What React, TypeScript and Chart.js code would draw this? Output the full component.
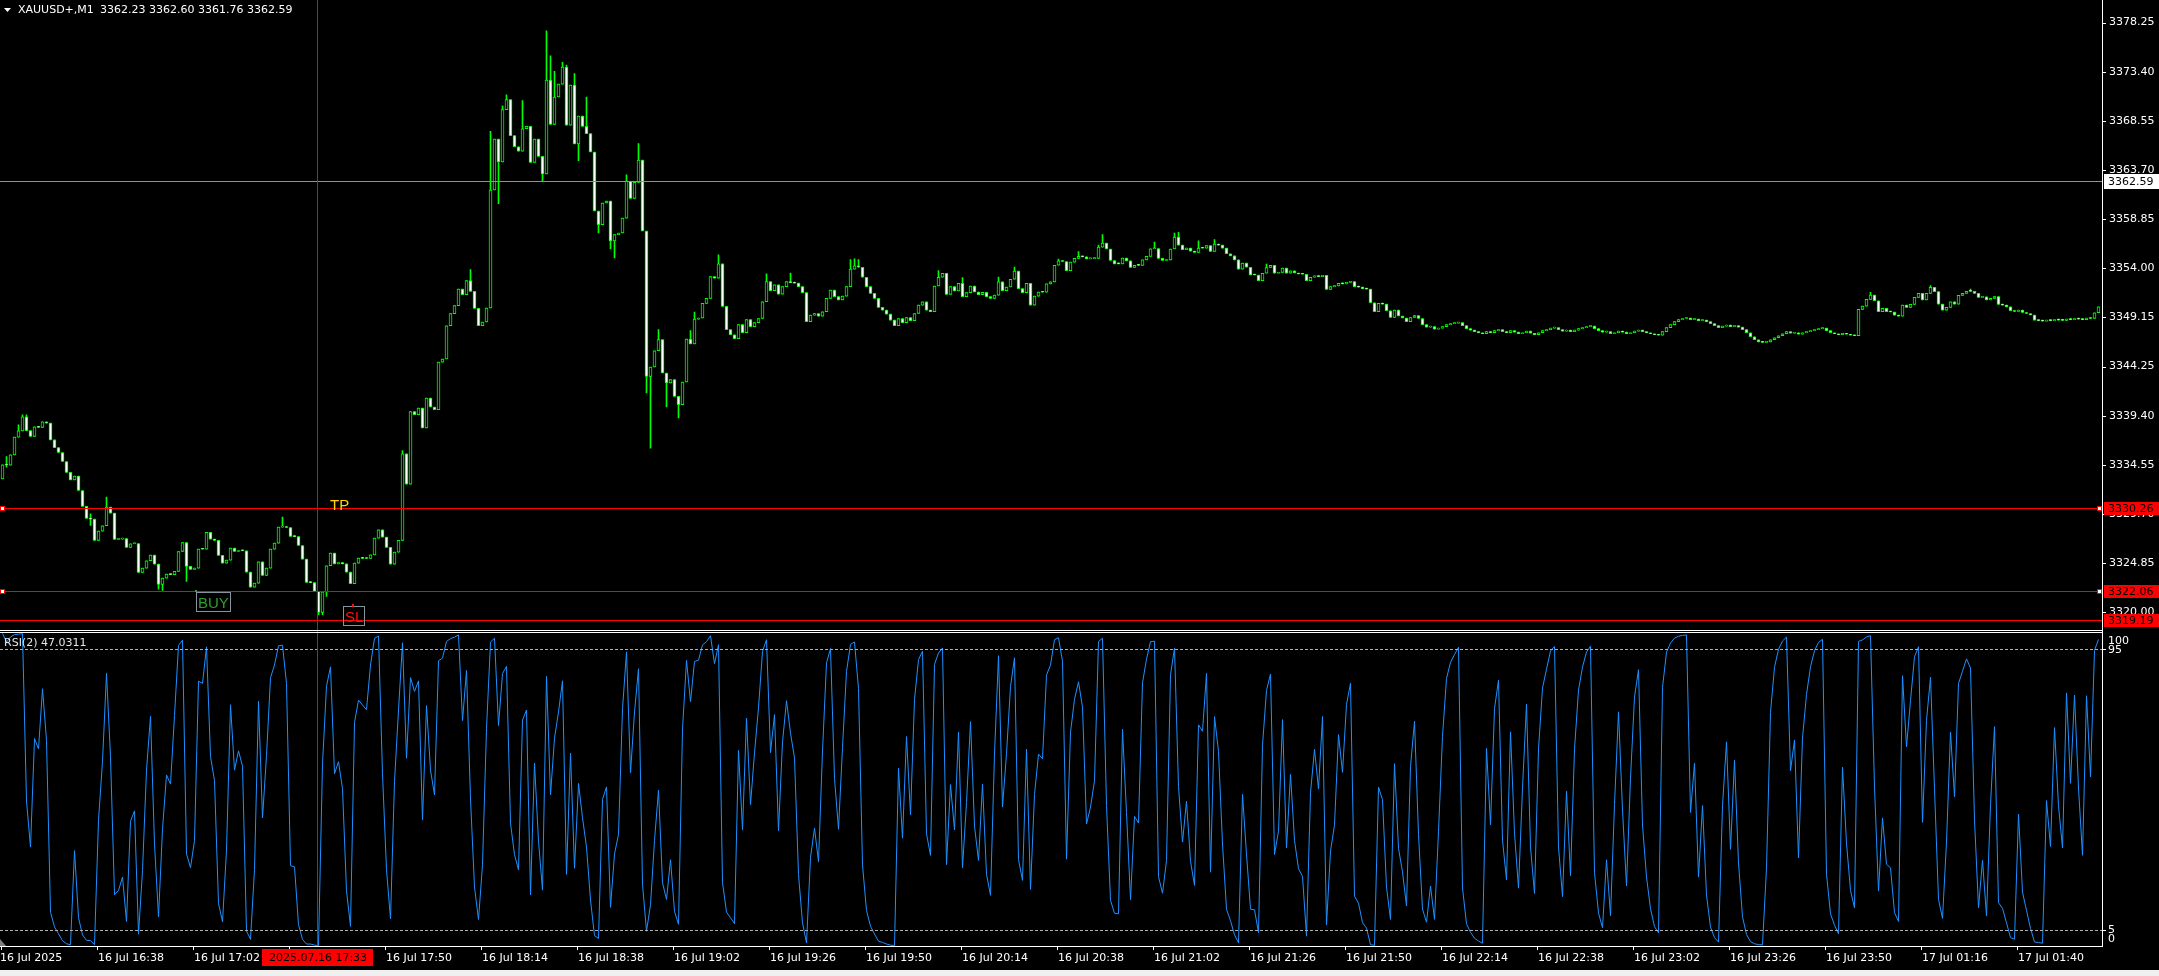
import { useEffect, useRef } from 'react';
import { Chart, registerables } from 'chart.js';

Chart.register(...registerables);

// ---------- data ----------
const SYMBOL = 'XAUUSD+,M1';
const HEADER_PRICES = '3362.23 3362.60 3361.76 3362.59';
const RSI_HEADER = 'RSI(2) 47.0311';
const RSI_PERIOD = 2;

const FIRST_OPEN = 3333.16;
const CLOSES: number[] = [
  3334.54, 3334.50, 3335.53, 3337.28, 3337.90, 3339.29, 3337.93, 3337.34, 3338.30, 3338.25,
  3338.79, 3338.66, 3337.01, 3336.25, 3335.76, 3334.87, 3333.79, 3333.06, 3333.42, 3332.01,
  3330.43, 3329.24, 3329.18, 3327.07, 3327.99, 3328.52, 3330.36, 3329.77, 3327.17, 3327.20,
  3327.25, 3326.38, 3326.74, 3326.77, 3323.91, 3324.33, 3325.06, 3325.62, 3324.73, 3322.72,
  3323.35, 3323.74, 3323.70, 3324.01, 3325.98, 3326.87, 3324.50, 3324.20, 3324.33, 3326.21,
  3326.20, 3327.86, 3327.20, 3327.07, 3325.59, 3324.83, 3325.12, 3326.31, 3325.98, 3326.08,
  3326.05, 3323.94, 3322.46, 3322.85, 3324.96, 3323.61, 3324.33, 3326.21, 3326.80, 3328.39,
  3328.45, 3328.35, 3327.46, 3327.45, 3326.57, 3325.22, 3322.92, 3322.90, 3322.03, 3319.95,
  3321.99, 3324.57, 3325.82, 3324.76, 3324.89, 3324.76, 3323.94, 3322.79, 3324.83, 3325.32,
  3325.30, 3325.29, 3325.65, 3327.30, 3328.12, 3327.40, 3326.38, 3324.73, 3325.92, 3327.07,
  3335.63, 3332.63, 3339.80, 3339.50, 3340.15, 3338.18, 3341.15, 3340.26, 3339.99, 3344.70,
  3345.00, 3348.29, 3349.48, 3350.27, 3351.92, 3351.36, 3352.74, 3351.69, 3350.01, 3348.29,
  3348.66, 3350.04, 3361.70, 3366.74, 3364.47, 3369.64, 3370.63, 3367.07, 3365.98, 3365.55,
  3367.76, 3367.99, 3364.43, 3366.74, 3365.03, 3363.28, 3372.57, 3368.19, 3370.89, 3372.17,
  3373.85, 3368.12, 3372.08, 3366.25, 3369.01, 3367.99, 3367.27, 3365.46, 3359.63, 3358.28,
  3360.42, 3360.61, 3356.66, 3357.29, 3357.45, 3358.93, 3362.56, 3360.88, 3362.46, 3364.67,
  3357.65, 3343.29, 3344.21, 3345.82, 3346.91, 3343.62, 3342.63, 3342.96, 3341.31, 3340.49,
  3342.73, 3346.98, 3346.48, 3348.95, 3349.05, 3350.50, 3351.00, 3353.15, 3353.00, 3354.40,
  3350.20, 3347.90, 3347.40, 3347.00, 3348.40, 3347.60, 3348.90, 3348.20, 3348.60, 3349.00,
  3350.66, 3352.65, 3351.75, 3352.32, 3351.42, 3352.15, 3352.65, 3352.55, 3352.50, 3352.15,
  3351.56, 3348.70, 3349.33, 3349.50, 3349.24, 3349.67, 3351.00, 3351.82, 3351.16, 3350.83,
  3351.22, 3352.15, 3353.88, 3354.21, 3354.07, 3353.08, 3352.15, 3351.49, 3351.00, 3350.10,
  3349.83, 3349.43, 3348.84, 3348.30, 3349.00, 3348.60, 3349.10, 3348.80, 3349.50, 3350.33,
  3350.66, 3349.83, 3349.67, 3352.22, 3353.08, 3353.48, 3351.39, 3352.15, 3351.72, 3352.48,
  3351.16, 3351.56, 3352.22, 3351.62, 3351.36, 3351.59, 3351.16, 3351.00, 3351.32, 3352.62,
  3351.75, 3352.12, 3352.88, 3353.68, 3351.95, 3351.56, 3352.48, 3350.33, 3351.22, 3351.62,
  3351.60, 3352.42, 3352.62, 3354.27, 3354.70, 3354.64, 3353.74, 3354.57, 3354.94, 3355.14,
  3355.10, 3354.90, 3354.92, 3354.94, 3356.06, 3356.46, 3355.87, 3354.74, 3354.41, 3354.40,
  3354.97, 3354.70, 3354.04, 3354.27, 3354.25, 3354.80, 3355.14, 3355.90, 3355.92, 3354.94,
  3354.74, 3354.80, 3355.87, 3357.06, 3356.26, 3355.80, 3355.96, 3355.67, 3355.53, 3355.96,
  3355.95, 3356.20, 3355.63, 3356.36, 3356.26, 3355.96, 3355.40, 3355.20, 3354.80, 3353.88,
  3354.47, 3354.07, 3353.31, 3353.30, 3352.75, 3353.48, 3354.04, 3354.27, 3353.48, 3353.55,
  3353.98, 3353.48, 3353.71, 3353.50, 3353.40, 3353.38, 3352.75, 3353.08, 3353.21, 3353.15,
  3353.28, 3351.89, 3352.15, 3352.22, 3352.48, 3352.42, 3352.58, 3352.65, 3352.15, 3352.10,
  3351.95, 3351.90, 3350.56, 3349.67, 3350.50, 3350.43, 3349.77, 3349.10, 3349.83, 3349.25,
  3349.05, 3348.70, 3349.10, 3349.30, 3349.00, 3348.40, 3348.15, 3348.20, 3347.95, 3348.05,
  3348.20, 3348.40, 3348.50, 3348.55, 3348.60, 3348.30, 3348.00, 3347.85, 3347.70, 3347.60,
  3347.50, 3347.70, 3347.60, 3347.80, 3347.90, 3347.70, 3347.60, 3347.80, 3347.65, 3347.50,
  3347.60, 3347.75, 3347.55, 3347.40, 3347.60, 3347.80, 3347.90, 3348.05, 3348.10, 3347.90,
  3347.75, 3347.85, 3347.70, 3347.85, 3348.00, 3348.10, 3348.20, 3348.25, 3348.00, 3347.80,
  3347.65, 3347.70, 3347.50, 3347.60, 3347.75, 3347.65, 3347.50, 3347.60, 3347.75, 3347.85,
  3347.70, 3347.60, 3347.50, 3347.40, 3347.35, 3347.70, 3348.10, 3348.40, 3348.70, 3348.90,
  3349.00, 3349.05, 3348.90, 3348.95, 3348.80, 3348.85, 3348.70, 3348.50, 3348.30, 3348.10,
  3348.25, 3348.35, 3348.20, 3348.30, 3348.15, 3347.90, 3347.60, 3347.20, 3346.90, 3346.70,
  3346.65, 3346.70, 3346.90, 3347.10, 3347.30, 3347.50, 3347.70, 3347.55, 3347.60, 3347.45,
  3347.60, 3347.70, 3347.80, 3347.90, 3348.00, 3348.05, 3347.80, 3347.60, 3347.50, 3347.40,
  3347.55, 3347.45, 3347.35, 3347.30, 3349.90, 3350.23, 3350.89, 3351.32, 3350.76, 3349.67,
  3350.00, 3349.67, 3349.65, 3349.33, 3349.23, 3350.33, 3350.10, 3350.40, 3351.09, 3351.49,
  3350.83, 3351.49, 3352.09, 3351.66, 3350.43, 3349.83, 3350.10, 3350.66, 3350.43, 3351.29,
  3351.49, 3351.69, 3351.68, 3351.49, 3351.09, 3351.15, 3350.83, 3350.99, 3351.16, 3350.40,
  3350.33, 3350.16, 3349.77, 3349.70, 3349.83, 3349.60, 3349.50, 3349.35, 3348.84, 3348.80,
  3348.75, 3348.85, 3348.80, 3348.90, 3348.85, 3348.82, 3348.95, 3348.90, 3349.00, 3348.95,
  3348.90, 3349.05, 3349.00, 3349.57, 3350.16,
];

// [bar index, high, low] for the wicks that stick out of the bodies
const WICKS: [number, number | null, number | null][] = [
  [1, 3335.37, 3334.31], [4, 3338.5, null], [5, 3339.48, null], [6, 3339.48, null],
  [22, 3329.7, 3328.55], [26, 3331.35, null], [39, null, 3322.26], [40, null, 3322.13],
  [46, null, 3323.02], [70, 3329.37, null], [79, null, 3319.73], [80, null, 3319.73],
  [81, null, 3321.54], [100, 3335.96, null], [117, 3353.83, null], [122, 3367.5, null],
  [124, null, 3360.35], [125, 3370.03, null], [126, 3371.12, null], [130, 3370.53, null],
  [135, null, 3362.6], [136, 3377.44, null], [137, 3374.97, null], [138, 3373.42, null],
  [140, 3374.31, null], [141, 3374.05, null], [143, 3373.2, null], [144, null, 3364.6],
  [146, 3370.89, null], [149, null, 3357.45], [152, null, 3355.87], [153, null, 3354.98],
  [156, 3363.2, null], [159, 3366.28, null], [161, null, 3341.64], [162, null, 3336.2],
  [164, 3347.9, null], [166, null, 3340.26], [169, null, 3339.17], [172, 3347.8, null],
  [173, 3349.65, null], [179, 3355.3, null], [191, 3353.43, null], [197, 3353.5, null],
  [212, 3354.82, null], [213, 3354.9, null], [214, 3354.82, null], [234, 3353.73, null],
  [240, 3353.04, null], [249, 3353.1, null], [253, 3354.09, null], [264, 3354.88, null],
  [269, 3355.61, null], [274, 3356.27, null], [275, 3357.3, null], [288, 3356.56, null],
  [293, 3357.45, null], [294, 3357.52, null], [299, 3356.69, null], [303, 3356.8, null],
  [316, 3354.39, null], [467, 3351.59, null], [482, 3352.25, null], [492, 3351.92, null],
];

const TIME_LABELS: string[] = [
  '16 Jul 2025', '16 Jul 16:38', '16 Jul 17:02', '16 Jul 17:26', '16 Jul 17:50', '16 Jul 18:14',
  '16 Jul 18:38', '16 Jul 19:02', '16 Jul 19:26', '16 Jul 19:50', '16 Jul 20:14', '16 Jul 20:38',
  '16 Jul 21:02', '16 Jul 21:26', '16 Jul 21:50', '16 Jul 22:14', '16 Jul 22:38', '16 Jul 23:02',
  '16 Jul 23:26', '16 Jul 23:50', '17 Jul 01:16', '17 Jul 01:40',
];
const TIME_LABEL_STEP = 24;

const PRICE_TICKS: number[] = [
  3378.25, 3373.40, 3368.55, 3363.70, 3358.85, 3354.00, 3349.15, 3344.25, 3339.40, 3334.55,
  3329.70, 3324.85, 3320.00,
];
const PRICE_MIN = 3318.22;
const PRICE_MAX = 3380.48;

const RSI_LEVELS = [95, 5];
const RSI_AXIS_LABELS = ['100', '95', '5', '0'];

const BID = 3362.59;
const TP_PRICE = 3330.26;
const ENTRY_PRICE = 3322.06;
const SL_PRICE = 3319.19;
const CURSOR_INDEX = 79;
const CURSOR_LABEL = '2025.07.16 17:33';
const TP_INDEX = 82;
const BUY_INDEX = 49;
const SL_INDEX = 86;

// ---------- derived series ----------
const OPENS = CLOSES.map((c, i) => (i === 0 ? FIRST_OPEN : CLOSES[i - 1]));
const HIGHS = CLOSES.map((c, i) => Math.max(c, OPENS[i]));
const LOWS = CLOSES.map((c, i) => Math.min(c, OPENS[i]));
WICKS.forEach(([i, h, l]) => {
  if (h !== null) HIGHS[i] = Math.max(HIGHS[i], h);
  if (l !== null) LOWS[i] = Math.min(LOWS[i], l);
});

// RSI indicator (Wilder smoothing) computed from the closes
function computeRsi(closes: number[], first: number, period: number): number[] {
  const out: number[] = [];
  let up = 0;
  let dn = 0;
  let prev = first;
  closes.forEach((c, i) => {
    const d = c - prev;
    prev = c;
    const u = d > 0 ? d : 0;
    const w = d < 0 ? -d : 0;
    if (i < period) {
      up += u / period;
      dn += w / period;
    } else {
      up = (up * (period - 1) + u) / period;
      dn = (dn * (period - 1) + w) / period;
    }
    out.push(dn === 0 ? 100 : 100 - 100 / (1 + up / dn));
  });
  return out;
}
const RSI_VALUES = computeRsi(CLOSES, FIRST_OPEN, RSI_PERIOD);

// ---------- drawing ----------
const FONT = '"DejaVu Sans", "Liberation Sans", sans-serif';
const TEXT_FONT = '"Liberation Sans", Arial, sans-serif';
const W = 2159;
const H = 970;
const BORDER_X = 2102;

const mt4Plugin = {
  id: 'mt4',
  beforeDraw(chart: any) {
    const { ctx } = chart;
    ctx.save();
    ctx.fillStyle = '#000';
    ctx.fillRect(0, 0, chart.width, chart.height);
    ctx.restore();
  },
  afterDatasetsDraw(chart: any) {
    const { ctx, scales, chartArea } = chart;
    const x = scales.x;
    const yP = scales.yP;
    const yR = scales.yR;
    const bottom = Math.round(chartArea.bottom);
    ctx.save();

    // RSI dotted levels
    ctx.fillStyle = '#b0b0b0';
    RSI_LEVELS.forEach((lv) => {
      const y = Math.round(yR.getPixelForValue(lv));
      for (let xx = 0; xx < BORDER_X; xx += 5) ctx.fillRect(xx, y, 3, 1);
    });

    // bid line
    ctx.fillStyle = '#8793a3';
    ctx.fillRect(0, Math.round(yP.getPixelForValue(BID)), BORDER_X, 1);

    // order lines
    ctx.fillStyle = '#ff0000';
    [TP_PRICE, ENTRY_PRICE, SL_PRICE].forEach((p) => {
      ctx.fillRect(0, Math.round(yP.getPixelForValue(p)), BORDER_X, 1);
    });
    const xc = Math.round(x.getPixelForValue(CURSOR_INDEX)) - 2;
    ctx.fillRect(xc, 0, 1, bottom);

    // line end handles
    [TP_PRICE, ENTRY_PRICE].forEach((p) => {
      const y = Math.round(yP.getPixelForValue(p));
      [0, BORDER_X - 5].forEach((hx) => {
        ctx.fillStyle = '#ff0000';
        ctx.fillRect(hx, y - 2, 5, 5);
        ctx.fillStyle = '#ffffff';
        ctx.fillRect(hx + 1, y - 1, 3, 3);
      });
    });

    // TP text
    const yTP = yP.getPixelForValue(TP_PRICE);
    ctx.font = `15px ${TEXT_FONT}`;
    ctx.textBaseline = 'alphabetic';
    ctx.textAlign = 'left';
    ctx.fillStyle = '#ffd700';
    ctx.fillText('TP', Math.round(x.getPixelForValue(TP_INDEX)) - 1, Math.round(yTP) + 2);

    // BUY label
    const yE = Math.round(yP.getPixelForValue(ENTRY_PRICE));
    const bx = Math.round(x.getPixelForValue(BUY_INDEX)) - 3;
    ctx.strokeStyle = '#8893a0';
    ctx.lineWidth = 1;
    ctx.strokeRect(bx + 0.5, yE + 1.5, 34, 19);
    ctx.fillStyle = '#2f9f2f';
    ctx.fillText('BUY', bx + 2, yE + 17);
    ctx.fillStyle = '#3fa03f';
    ctx.fillRect(bx - 1, yE - 1, 2, 2);

    // SL label
    const yS = Math.round(yP.getPixelForValue(SL_PRICE));
    const sx = Math.round(x.getPixelForValue(SL_INDEX)) - 3;
    ctx.strokeStyle = '#8893a0';
    ctx.strokeRect(sx + 0.5, yS - 13.5, 21, 19);
    ctx.fillStyle = '#ff1010';
    ctx.fillText('SL', sx + 2, yS + 2);
    ctx.fillRect(sx + 9, yS - 16, 2, 3);

    // pane borders
    ctx.fillStyle = '#ffffff';
    const sep = Math.round(yP.bottom);
    ctx.fillRect(0, sep, BORDER_X + 1, 1);
    ctx.fillRect(0, sep + 2, BORDER_X + 1, 1);
    ctx.fillRect(0, bottom, BORDER_X + 1, 1);
    ctx.fillRect(BORDER_X, 0, 1, bottom + 1);

    // price tick marks
    PRICE_TICKS.forEach((v) => {
      ctx.fillRect(BORDER_X + 1, Math.round(yP.getPixelForValue(v)), 3, 1);
    });
    RSI_LEVELS.forEach((v) => {
      ctx.fillRect(BORDER_X + 1, Math.round(yR.getPixelForValue(v)), 3, 1);
    });

    // headers
    ctx.fillStyle = '#ffffff';
    ctx.beginPath();
    ctx.moveTo(4, 8);
    ctx.lineTo(11, 8);
    ctx.lineTo(7.5, 12);
    ctx.closePath();
    ctx.fill();
    ctx.font = `11px ${FONT}`;
    ctx.textBaseline = 'middle';
    ctx.fillText(SYMBOL, 18, 10);
    ctx.fillText(HEADER_PRICES, 100, 10);
    ctx.fillStyle = '#e6e6e6';
    ctx.fillText(RSI_HEADER, 4, sep + 13);

    // scroll marker bottom-left
    ctx.fillStyle = '#808080';
    ctx.beginPath();
    ctx.moveTo(0, bottom - 7);
    ctx.lineTo(0, bottom);
    ctx.lineTo(6, bottom);
    ctx.closePath();
    ctx.fill();
    ctx.restore();
  },
  afterDraw(chart: any) {
    const { ctx, scales, chartArea } = chart;
    const x = scales.x;
    const yP = scales.yP;
    const yR = scales.yR;
    const bottom = Math.round(chartArea.bottom);
    ctx.save();
    ctx.textBaseline = 'middle';
    ctx.textAlign = 'left';

    // price tags
    const tag = (p: number, bg: string, h: number) => {
      const y = Math.round(yP.getPixelForValue(p));
      ctx.fillStyle = bg;
      ctx.fillRect(BORDER_X + 2, y - Math.floor(h / 2), W - BORDER_X - 2, h);
      ctx.fillStyle = '#000';
      ctx.font = `11px ${FONT}`;
      ctx.fillText(p.toFixed(2), 2108, y + 1);
    };
    tag(BID, '#ffffff', 15);
    tag(TP_PRICE, '#ff0000', 13);
    tag(ENTRY_PRICE, '#ff0000', 13);
    tag(SL_PRICE, '#ff0000', 13);

    // RSI axis labels
    ctx.fillStyle = '#ffffff';
    ctx.font = `11px ${FONT}`;
    const rsiPos = [
      yR.getPixelForValue(100) + 8,
      yR.getPixelForValue(95) + 1,
      yR.getPixelForValue(5),
      yR.getPixelForValue(0) - 7,
    ];
    RSI_AXIS_LABELS.forEach((t, k) => ctx.fillText(t, 2108, rsiPos[k]));

    // time axis
    ctx.font = `11px ${FONT}`;
    TIME_LABELS.forEach((t, k) => {
      const tx = Math.round(x.getPixelForValue(k * TIME_LABEL_STEP)) - 2;
      ctx.fillStyle = '#ffffff';
      ctx.fillRect(tx, bottom, 1, 4);
      ctx.fillText(t, k === 0 ? 0 : tx + 1, bottom + 12);
    });

    // cursor time tag
    const xc = Math.round(x.getPixelForValue(CURSOR_INDEX)) - 2;
    ctx.fillStyle = '#ff0000';
    ctx.fillRect(xc - 55, bottom + 3, 111, 17);
    ctx.fillStyle = '#000';
    ctx.textAlign = 'center';
    ctx.font = `11px ${FONT}`;
    ctx.fillText(CURSOR_LABEL, xc + 1, bottom + 12);
    ctx.restore();
  },
};

const noPad = (s: any) => {
  s.width = 58.5;
  s.paddingTop = 0;
  s.paddingBottom = 0;
  s.paddingLeft = 0;
  s.paddingRight = 0;
};

export default function App() {
  const ref = useRef<HTMLCanvasElement>(null);

  useEffect(() => {
    document.body.style.margin = '0';
    document.body.style.background = '#000';
    const labels = CLOSES.map((_, i) => String(i));
    const bodyColors = CLOSES.map((c, i) => (c >= OPENS[i] ? '#000000' : '#ffffff'));
    const chart = new Chart(ref.current as HTMLCanvasElement, {
      type: 'bar',
      data: {
        labels,
        datasets: [
          {
            type: 'bar',
            label: 'body',
            data: CLOSES.map((c, i) => [OPENS[i], c]) as any,
            yAxisID: 'yP',
            backgroundColor: bodyColors,
            borderColor: '#00ff00',
            borderWidth: 1,
            borderSkipped: false,
            barThickness: 3,
            minBarLength: 1,
            grouped: false,
            order: 0,
          },
          {
            type: 'bar',
            label: 'wick',
            data: CLOSES.map((_, i) => [LOWS[i], HIGHS[i]]) as any,
            yAxisID: 'yP',
            backgroundColor: '#00ff00',
            borderWidth: 0,
            barThickness: 1,
            minBarLength: 1,
            grouped: false,
            order: 1,
          },
          {
            type: 'line',
            label: 'RSI',
            data: RSI_VALUES,
            yAxisID: 'yR',
            borderColor: '#1e90ff',
            borderWidth: 1,
            pointRadius: 0,
            tension: 0,
            order: 0,
          } as any,
        ],
      },
      options: {
        animation: false,
        responsive: false,
        devicePixelRatio: 1,
        events: [],
        layout: { autoPadding: false, padding: { left: 0.5, right: 0, top: 0, bottom: 24 } },
        plugins: { legend: { display: false }, tooltip: { enabled: false } },
        scales: {
          x: { type: 'category', display: false, offset: true },
          yP: {
            type: 'linear',
            position: 'right',
            stack: 'panes',
            stackWeight: 630,
            min: PRICE_MIN,
            max: PRICE_MAX,
            grid: { display: false, drawTicks: false },
            border: { display: false },
            ticks: {
              color: '#ffffff',
              font: { family: 'DejaVu Sans', size: 11 },
              padding: 8.5,
              autoSkip: false,
              callback: (v: any) => Number(v).toFixed(2),
            },
            afterBuildTicks: (s: any) => {
              s.ticks = PRICE_TICKS.map((v) => ({ value: v }));
            },
            afterFit: noPad,
          },
          yR: {
            type: 'linear',
            position: 'right',
            stack: 'panes',
            stackWeight: 316,
            min: 0,
            max: 101.07,
            grid: { display: false, drawTicks: false },
            border: { display: false },
            ticks: { display: false },
            afterFit: noPad,
          },
        } as any,
      },
      plugins: [mt4Plugin as any],
    });
    return () => chart.destroy();
  }, []);

  return (
    <div style={{ width: W, height: 976, background: '#000', overflow: 'hidden' }}>
      <canvas ref={ref} width={W} height={H} style={{ display: 'block', width: W, height: H }} />
      <div style={{ height: 6, background: '#f0f0f0' }} />
    </div>
  );
}
